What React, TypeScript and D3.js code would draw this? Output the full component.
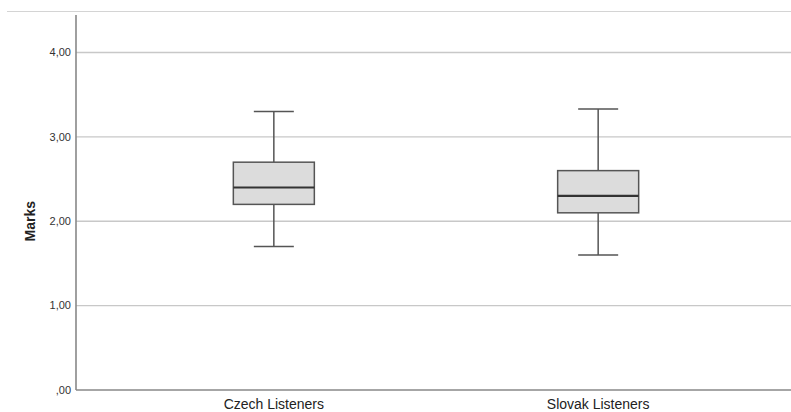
import { useEffect, useRef } from 'react';
import * as d3 from 'd3';

const groups = ['Czech Listeners', 'Slovak Listeners'];
const whiskerLow = [1.7, 1.6];
const q1 = [2.2, 2.1];
const median = [2.4, 2.3];
const q3 = [2.7, 2.6];
const whiskerHigh = [3.3, 3.33];
const yTicks = [0, 1, 2, 3, 4];

const App = () => {
  const svgRef = useRef<SVGSVGElement>(null);

  useEffect(() => {
    const width = 791;
    const height = 412;

    const svg = d3.select(svgRef.current)
      .attr('width', width)
      .attr('height', height)
      .style('font-family', 'Arial, "Liberation Sans", sans-serif');

    svg.selectAll('*').remove();

    const y = d3.scaleLinear().domain([0, 4]).range([390, 52.5]);
    const x = d3.scalePoint().domain(groups).range([76, 796]).padding(0.61);

    // thin top frame line
    svg.append('line')
      .attr('x1', 7).attr('x2', width).attr('y1', 11.5).attr('y2', 11.5)
      .attr('stroke', '#d4d4d4').attr('stroke-width', 1);

    // gridlines
    svg.selectAll('line.grid')
      .data(yTicks.filter(t => t > 0))
      .enter()
      .append('line')
      .attr('class', 'grid')
      .attr('x1', 76).attr('x2', width)
      .attr('y1', d => y(d)).attr('y2', d => y(d))
      .attr('stroke', '#c8c8c8').attr('stroke-width', 1.3);

    // y tick labels
    svg.selectAll('text.ytick')
      .data(yTicks)
      .enter()
      .append('text')
      .attr('class', 'ytick')
      .attr('x', 71)
      .attr('y', d => y(d))
      .attr('dy', '0.35em')
      .attr('text-anchor', 'end')
      .style('font-size', '11px')
      .attr('fill', '#333')
      .text(d => d3.format('.2f')(d).replace('.', ',').replace(/^0,/, ','));

    // axes
    svg.append('line')
      .attr('x1', 76).attr('x2', 76).attr('y1', 15).attr('y2', 390)
      .attr('stroke', '#888').attr('stroke-width', 1.6);
    svg.append('line')
      .attr('x1', 76).attr('x2', width).attr('y1', 390).attr('y2', 390)
      .attr('stroke', '#888').attr('stroke-width', 1.6);

    // y title
    svg.append('text')
      .attr('transform', `translate(35,${y(2)}) rotate(-90)`)
      .attr('text-anchor', 'middle')
      .style('font-size', '14px')
      .style('font-weight', 'bold')
      .attr('fill', '#222')
      .text('Marks');

    const boxW = 81;
    const capW = 40;

    groups.forEach((g, i) => {
      const cx = x(g) as number;
      const gr = svg.append('g');
      // whisker stems
      gr.append('line')
        .attr('x1', cx).attr('x2', cx)
        .attr('y1', y(whiskerHigh[i])).attr('y2', y(q3[i]))
        .attr('stroke', '#555').attr('stroke-width', 1.5);
      gr.append('line')
        .attr('x1', cx).attr('x2', cx)
        .attr('y1', y(q1[i])).attr('y2', y(whiskerLow[i]))
        .attr('stroke', '#555').attr('stroke-width', 1.5);
      // caps
      [whiskerHigh[i], whiskerLow[i]].forEach(v => {
        gr.append('line')
          .attr('x1', cx - capW / 2).attr('x2', cx + capW / 2)
          .attr('y1', y(v)).attr('y2', y(v))
          .attr('stroke', '#555').attr('stroke-width', 1.5);
      });
      // box
      gr.append('rect')
        .attr('x', cx - boxW / 2)
        .attr('y', y(q3[i]))
        .attr('width', boxW)
        .attr('height', y(q1[i]) - y(q3[i]))
        .attr('fill', '#dcdcdc')
        .attr('stroke', '#555')
        .attr('stroke-width', 1.5);
      // median
      gr.append('line')
        .attr('x1', cx - boxW / 2).attr('x2', cx + boxW / 2)
        .attr('y1', y(median[i])).attr('y2', y(median[i]))
        .attr('stroke', '#333').attr('stroke-width', 2.2);
      // category label
      gr.append('text')
        .attr('x', cx)
        .attr('y', 409)
        .attr('text-anchor', 'middle')
        .style('font-size', '14px')
        .attr('fill', '#222')
        .text(g);
    });
  }, []);

  return (
    <div style={{ position: 'absolute', left: 0, top: 0 }}>
      <svg ref={svgRef} style={{ display: 'block' }}></svg>
    </div>
  );
};

export default App;
